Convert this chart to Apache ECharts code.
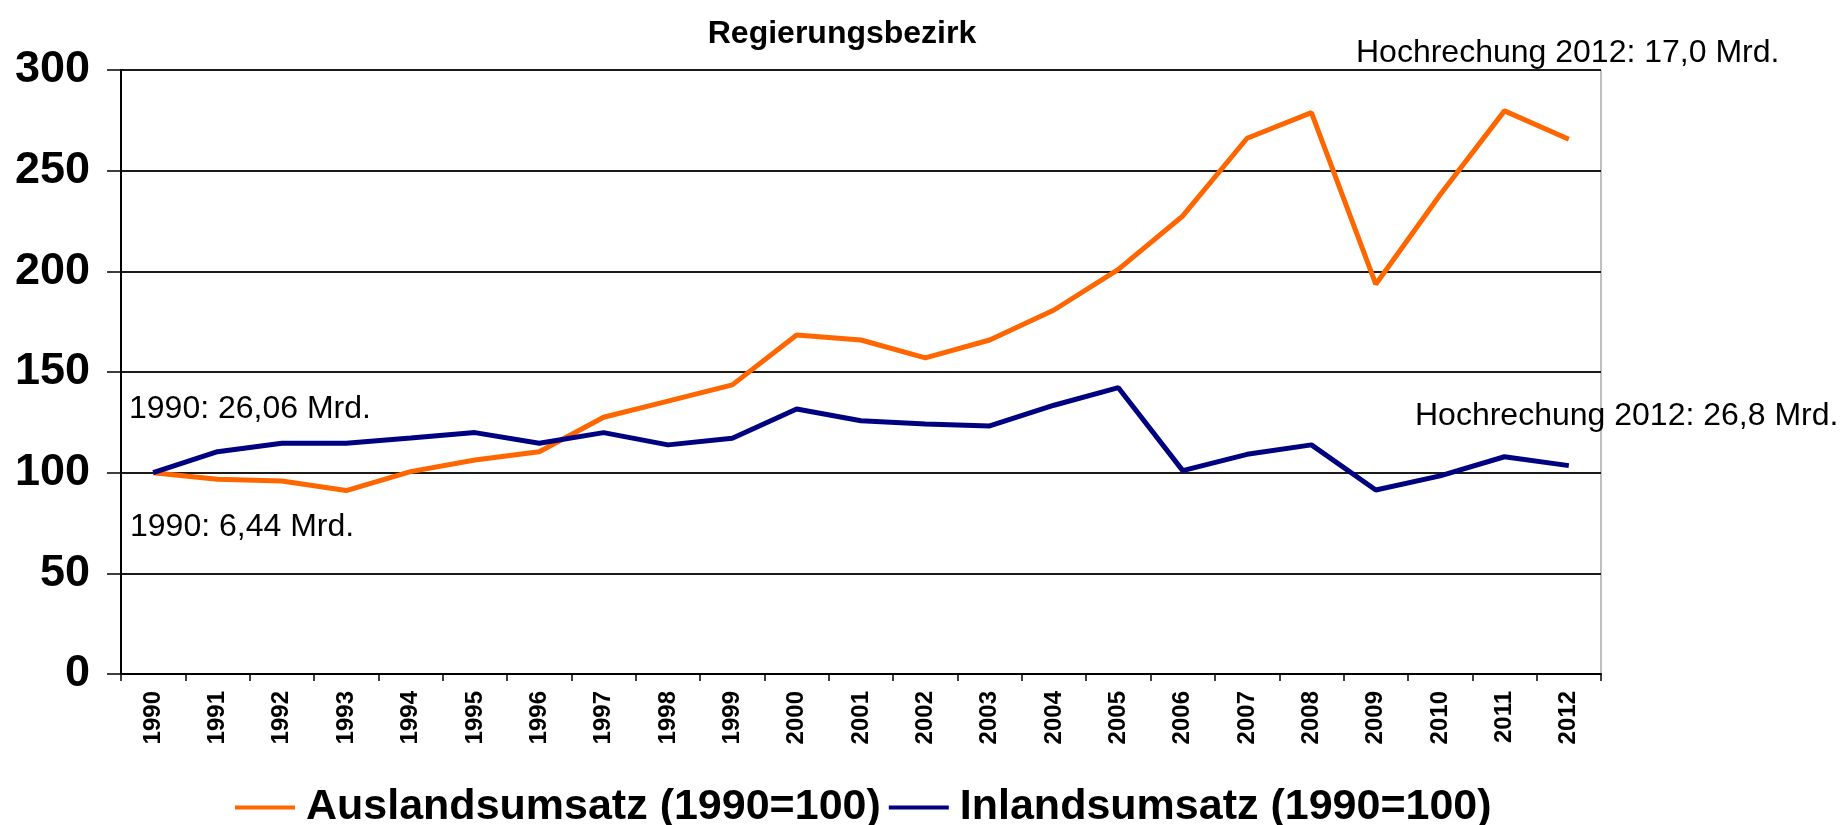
<!DOCTYPE html>
<html>
<head>
<meta charset="utf-8">
<script src="https://cdn.jsdelivr.net/npm/echarts@6/dist/echarts.min.js"></script>
<style>
html,body{margin:0;padding:0;background:#fff;}
#chart{width:1843px;height:825px;}
</style>
</head>
<body>
<div id="chart"></div>
<script>
const titleText = 'Regierungsbezirk';
const years = ['1990','1991','1992','1993','1994','1995','1996','1997','1998','1999','2000','2001','2002','2003','2004','2005','2006','2007','2008','2009','2010','2011','2012'];
const seriesNames = ['Auslandsumsatz (1990=100)', 'Inlandsumsatz (1990=100)'];
const auslandValues = [100, 96.7, 95.9, 91.1, 100.5, 106.3, 110.4, 127.5, 135.5, 143.6, 168.4, 165.9, 157.0, 165.9, 180.8, 201.0, 227.5, 266.1, 278.8, 193.6, 238.0, 279.7, 265.6];
const inlandValues = [100, 110.4, 114.6, 114.6, 117.2, 119.9, 114.6, 119.9, 113.8, 117.1, 131.6, 125.8, 124.2, 123.2, 133.5, 142.2, 101.0, 109.1, 113.8, 91.4, 98.4, 107.9, 103.5];
const yTicks = [0, 50, 100, 150, 200, 250, 300];
const annotationTexts = ['1990: 26,06 Mrd.', '1990: 6,44 Mrd.', 'Hochrechung 2012: 17,0 Mrd.', 'Hochrechung 2012: 26,8 Mrd.'];

const FONT = "'Liberation Sans', Arial, sans-serif";
const chart = echarts.init(document.getElementById('chart'), null, {renderer: 'canvas'});

function annot(text, x, y) {
  return {
    type: 'text', x: x, y: y, z: 100,
    style: { text: text, fontFamily: FONT, fontSize: 32, fill: '#000', align: 'left', verticalAlign: 'middle' }
  };
}

chart.setOption({
  animation: false,
  backgroundColor: '#fff',
  grid: { left: 121, right: 242, top: 70, bottom: 151, show: true, borderColor: '#808080', borderWidth: 1, containLabel: false },
  legend: {
    left: 235, top: 786, padding: 0,
    itemWidth: 60, itemHeight: 20, itemGap: 8,
    data: seriesNames.map(function (n) { return { name: n, icon: 'path://M0,8 L60,8 L60,12 L0,12 Z' }; }),
    textStyle: { fontFamily: FONT, fontSize: 43, fontWeight: 'bold', color: '#000', padding: [0, 0, 0, 6] }
  },
  xAxis: {
    type: 'category',
    data: years,
    boundaryGap: true,
    axisLine: { show: true, lineStyle: { color: '#000', width: 2 } },
    axisTick: { show: true, length: 7, lineStyle: { color: '#000', width: 1.5 } },
    axisLabel: { rotate: 90, margin: 17, fontFamily: FONT, fontSize: 24, fontWeight: 'bold', color: '#000', interval: 0 },
    splitLine: { show: false }
  },
  yAxis: {
    type: 'value',
    min: yTicks[0], max: yTicks[yTicks.length - 1], interval: yTicks[1] - yTicks[0],
    axisLine: { show: true, lineStyle: { color: '#000', width: 2 } },
    axisTick: { show: true, length: 14, lineStyle: { color: '#000', width: 1.5 } },
    axisLabel: { margin: 31, fontFamily: FONT, fontSize: 45, fontWeight: 'bold', color: '#000' },
    splitLine: { show: true, lineStyle: { color: '#1a1a1a', width: 2 } }
  },
  series: [
    {
      name: seriesNames[0], type: 'line', data: auslandValues,
      symbol: 'none', color: '#FF6600',
      lineStyle: { color: '#FF6600', width: 5 }
    },
    {
      name: seriesNames[1], type: 'line', data: inlandValues,
      symbol: 'none', color: '#000080',
      lineStyle: { color: '#000080', width: 5 }
    }
  ],
  graphic: [
    {
      type: 'text', x: 842, y: 34, z: 100,
      style: { text: titleText, fontFamily: FONT, fontSize: 32, fontWeight: 'bold', fill: '#000', align: 'center', verticalAlign: 'middle' }
    },
    annot(annotationTexts[0], 129, 409),
    annot(annotationTexts[1], 130, 527),
    annot(annotationTexts[2], 1356, 53),
    annot(annotationTexts[3], 1415, 416)
  ]
});
</script>
</body>
</html>
